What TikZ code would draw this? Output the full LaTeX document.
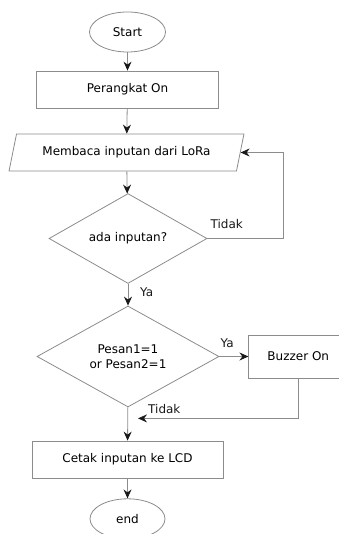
\documentclass[tikz,border=0pt]{standalone}
\usepackage{fontspec}
\setmainfont{DejaVu Sans}
\usepackage{tikz}
\usetikzlibrary{shapes.geometric, arrows.meta, positioning, calc}
\definecolor{mygray}{RGB}{140,140,140}
\definecolor{mydark}{RGB}{25,25,25}
\newcommand{\flowfont}{\fontsize{12}{14.5}\selectfont}
\tikzset{
  term/.style={ellipse, draw=mygray, fill=white, minimum width=76pt,
    minimum height=40pt, inner sep=0pt, font=\flowfont, line width=0.8pt},
  block/.style={rectangle, draw=mygray, fill=white, minimum width=182pt,
    minimum height=37pt, font=\flowfont, line width=0.8pt},
  io/.style={trapezium, trapezium left angle=72, trapezium right angle=108,
    trapezium stretches=true, draw=mygray, fill=white, minimum width=235pt,
    minimum height=37pt, font=\flowfont, line width=0.8pt},
  decision/.style={diamond, draw=mygray, fill=white, align=center,
    inner sep=0pt, font=\flowfont, line width=0.8pt},
  arrow/.style={-{Stealth[length=9pt, width=8pt, inset=3pt, color=mydark]},
    draw=mygray, line width=0.8pt},
  line/.style={draw=mygray, line width=0.8pt},
  lbl/.style={font=\flowfont, text=mydark, inner sep=1pt}
}
\begin{document}
\begin{tikzpicture}[x=1pt, y=1pt]
  \useasboundingbox (0,0) rectangle (338,-534);
  \node[term] (start) at (127.5,-32) {Start};
  \node[block] (on) at (127.5,-89.5) {Perangkat On};
  \node[io] (baca) at (126.5,-152.5) {Membaca inputan dari LoRa};
  \node[decision, minimum width=158pt, minimum height=85pt] (cek)
    at (128,-238.5) {ada inputan?};
  \node[decision, minimum width=182pt, minimum height=101pt] (pesan)
    at (128,-356.5) {Pesan1=1\\or Pesan2=1};
  \node[block, minimum width=99pt, minimum height=43pt,
    right=29pt of pesan] (buzzer) {Buzzer On};
  \node[block, minimum width=191pt] (lcd) at (127.5,-459.5) {Cetak inputan ke LCD};
  \node[term, minimum width=75pt, below=20pt of lcd] (stop) {end};

  \draw[arrow] (start) -- (on);
  \draw[arrow] (on)    -- (baca);
  \draw[arrow] (baca)  -- (cek);
  \draw[arrow] (cek)   -- (pesan);
  \draw[arrow] (pesan.east) -- (buzzer.west);
  \draw[arrow] (pesan) -- (lcd);
  \draw[arrow] (lcd)   -- (stop);
  % loop back to reading
  \coordinate (loop) at ($(cek.east)+(76,0)$);
  \draw[line]  (cek.east) -- (loop);
  \draw[arrow] (loop) |- (baca.east);
  % buzzer back to main line
  \coordinate (join) at ($(pesan.south)+(10,-11)$);
  \draw[arrow] (buzzer.south) |- (join);

  \node[lbl, above right=9pt and 2pt of cek.east] {Tidak};
  \node[lbl, below right=3pt and 11pt of cek.south] {Ya};
  \node[lbl, above right=8pt and 0pt of pesan.east] {Ya};
  \node[lbl, above right=4pt and 9pt of join] {Tidak};
\end{tikzpicture}
\end{document}
